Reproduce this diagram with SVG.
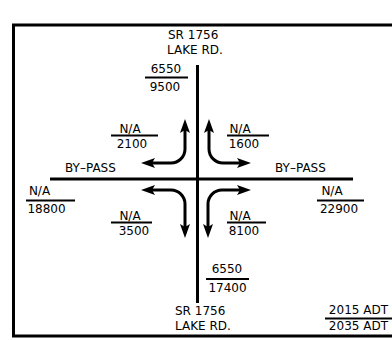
<svg xmlns="http://www.w3.org/2000/svg" width="392" height="340" viewBox="0 0 392 340">
<style>
text{font-family:"DejaVu Sans","Liberation Sans",sans-serif;font-size:12px;fill:#000}
.m{text-anchor:middle}
.road{stroke:#000;stroke-width:3;fill:none}
.frac{stroke:#000;stroke-width:2}
.arr{stroke:#000;stroke-width:3;fill:none;marker-start:url(#ah);marker-end:url(#ah)}
</style>
<defs>
<marker id="ah" viewBox="0 0 14 10" refX="3" refY="5" markerWidth="14" markerHeight="10" markerUnits="userSpaceOnUse" orient="auto-start-reverse">
<path d="M0,0 L14,5 L0,10 L3,5 z" fill="#000"/>
</marker>
</defs>
<rect x="13.5" y="25" width="400" height="311" fill="none" stroke="#000" stroke-width="3"/>
<g id="roads">
<line class="road" x1="197.5" y1="65" x2="197.5" y2="303"/>
<line class="road" x1="50" y1="179" x2="353" y2="179"/>
</g>
<g id="connectors">
<path class="arr" d="M185,130 V149 A14,14 0 0 1 171,163 H152"/>
<path class="arr" d="M209,130 V149 A14,14 0 0 0 223,163 H240"/>
<path class="arr" d="M152,190 H171 A14,14 0 0 1 185,204 V227"/>
<path class="arr" d="M240,190 H222 A14,14 0 0 0 208,204 V227"/>
</g>
<g id="north-label">
<text x="168" y="38.5">SR 1756</text>
<text x="167" y="53.5">LAKE RD.</text>
</g>
<g id="north-adt">
<text class="m" x="166" y="73">6550</text>
<line class="frac" x1="145" y1="77.5" x2="188" y2="77.5"/>
<text class="m" x="165" y="91">9500</text>
</g>
<g id="nw-turn">
<text class="m" x="130" y="132.5">N/A</text>
<line class="frac" x1="111" y1="135.5" x2="158" y2="135.5"/>
<text class="m" x="132" y="148">2100</text>
</g>
<g id="ne-turn">
<text class="m" x="240" y="132.5">N/A</text>
<line class="frac" x1="227" y1="135.5" x2="269" y2="135.5"/>
<text class="m" x="244" y="148">1600</text>
</g>
<g id="west-label"><text x="65" y="171.5">BY–PASS</text></g>
<g id="east-label"><text x="275" y="171.5">BY–PASS</text></g>
<g id="west-adt">
<text class="m" x="39.5" y="195">N/A</text>
<line class="frac" x1="26" y1="200.5" x2="75" y2="200.5"/>
<text class="m" x="46.5" y="213">18800</text>
</g>
<g id="east-adt">
<text class="m" x="332" y="195">N/A</text>
<line class="frac" x1="317" y1="200.5" x2="364" y2="200.5"/>
<text class="m" x="339" y="213">22900</text>
</g>
<g id="sw-turn">
<text class="m" x="130" y="219.5">N/A</text>
<line class="frac" x1="111" y1="222.5" x2="152" y2="222.5"/>
<text class="m" x="134" y="235">3500</text>
</g>
<g id="se-turn">
<text class="m" x="240" y="219.5">N/A</text>
<line class="frac" x1="227" y1="222.5" x2="266" y2="222.5"/>
<text class="m" x="244" y="235">8100</text>
</g>
<g id="south-adt">
<text class="m" x="227" y="273">6550</text>
<line class="frac" x1="206" y1="279" x2="249" y2="279"/>
<text class="m" x="227.5" y="291.5">17400</text>
</g>
<g id="south-label">
<text x="175" y="315">SR 1756</text>
<text x="175" y="330">LAKE RD.</text>
</g>
<g id="legend">
<text x="388" y="314" text-anchor="end">2015 ADT</text>
<line class="frac" x1="325" y1="318.5" x2="392" y2="318.5"/>
<text x="388" y="330" text-anchor="end">2035 ADT</text>
</g>
</svg>
